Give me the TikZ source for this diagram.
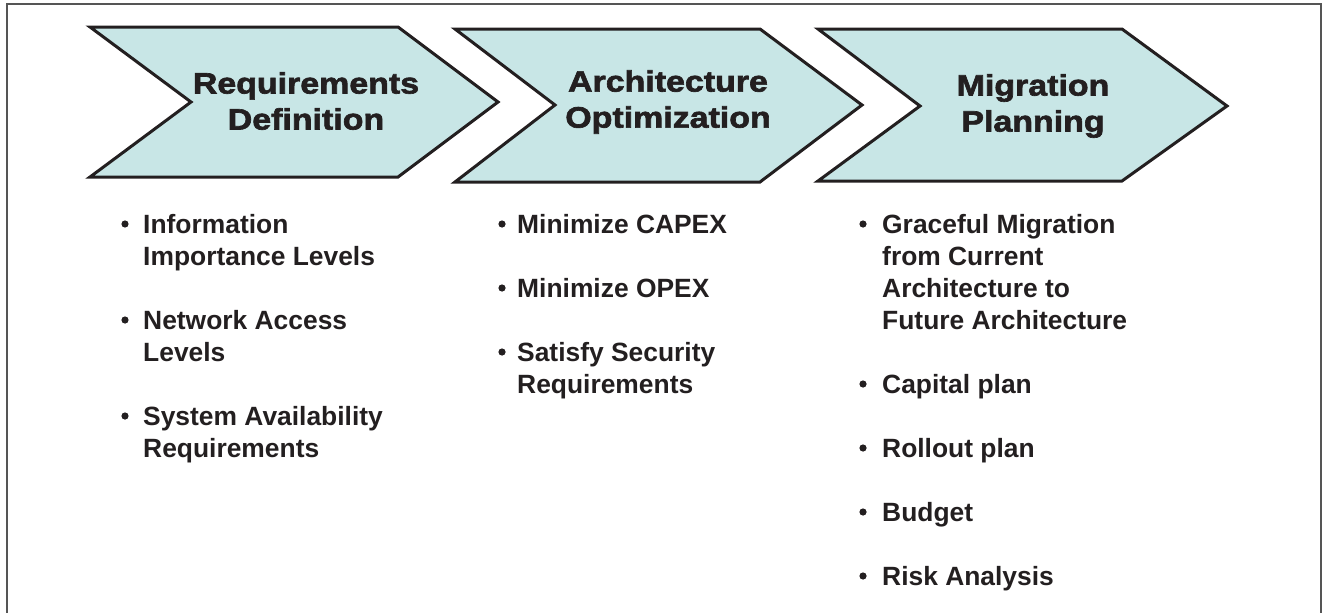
\documentclass[tikz,border=0pt]{standalone}
\usepackage{fontspec}
\setmainfont{Liberation Sans}
\newfontfamily\headfont[FakeStretch=1.15,BoldFeatures={FakeBold=2.2}]{Liberation Sans}
\definecolor{inkc}{HTML}{231F20}
\definecolor{chevfill}{HTML}{C8E6E6}
\definecolor{framec}{HTML}{555555}
\begin{document}
\begin{tikzpicture}[x=1pt,y=-1pt,
  chev/.style={draw=inkc, fill=chevfill, line width=3pt, line join=miter},
  headtxt/.style={align=center, text=inkc, inner sep=0pt,
    font=\headfont\bfseries\fontsize{29.5}{36}\selectfont},
  itemtxt/.style={anchor=north west, align=left, text=inkc, inner sep=0pt,
    font=\bfseries\fontsize{26.4}{32}\selectfont},
  dot/.style={circle, fill=inkc, inner sep=0pt, minimum size=7.2pt}]
\useasboundingbox (0,0) rectangle (1323,613);
% outer frame (open at the bottom)
\draw[framec, line width=2pt] (7,613) -- (7,4) -- (1321,4) -- (1321,613);

% process chevrons
\draw[chev] (90,27) -- (398,27) -- (498,102) -- (398,177) -- (90,177) -- (191,102) -- cycle;
\draw[chev] (455,29) -- (760,29) -- (862,105) -- (760,182) -- (455,182) -- (555,105) -- cycle;
\draw[chev] (818,29) -- (1122,29) -- (1227,106) -- (1122,181) -- (818,181) -- (920,106) -- cycle;

\node[headtxt] (h1) at (306,101) {Requirements\\Definition};
\node[headtxt] (h2) at (668,102) {Architecture\\Optimization};
\node[headtxt] (h3) at (1033,106) {Migration\\Planning};

% first column
\node[dot] (d11) at (125,224) {};
\node[itemtxt] (t11) at (143,214) {Information\\Importance Levels};
\node[dot] (d12) at (125,320) {};
\node[itemtxt] (t12) at (143,310) {Network Access\\Levels};
\node[dot] (d13) at (125,416) {};
\node[itemtxt] (t13) at (143,406) {System Availability\\Requirements};

% second column
\node[dot] (d21) at (502,224) {};
\node[itemtxt] (t21) at (517,214) {Minimize CAPEX};
\node[dot] (d22) at (502,288) {};
\node[itemtxt] (t22) at (517,278) {Minimize OPEX};
\node[dot] (d23) at (502,352) {};
\node[itemtxt] (t23) at (517,342) {Satisfy Security\\Requirements};

% third column
\node[dot] (d31) at (863,224) {};
\node[itemtxt] (t31) at (882,214) {Graceful Migration\\from Current\\Architecture to\\Future Architecture};
\node[dot] (d32) at (863,384) {};
\node[itemtxt] (t32) at (882,374) {Capital plan};
\node[dot] (d33) at (863,448) {};
\node[itemtxt] (t33) at (882,438) {Rollout plan};
\node[dot] (d34) at (863,512) {};
\node[itemtxt] (t34) at (882,502) {Budget};
\node[dot] (d35) at (863,576) {};
\node[itemtxt] (t35) at (882,566) {Risk Analysis};
\end{tikzpicture}
\end{document}
